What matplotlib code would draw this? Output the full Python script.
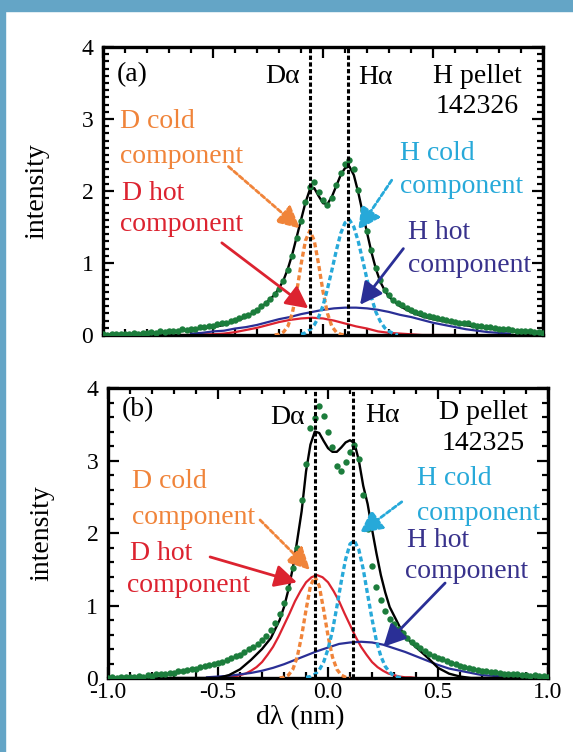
import numpy as np
import matplotlib
matplotlib.use("Agg")
import matplotlib.pyplot as plt
from matplotlib.patches import Rectangle
from matplotlib.ticker import MultipleLocator

plt.rcParams['font.family'] = ['Liberation Serif', 'DejaVu Serif']

# lineas D-alpha y H-alpha (nm)
d_alpha = -0.06
h_alpha = 0.115

# grilla del espectro medido (nm)
x_datos = np.linspace(-1.0, 1.0, 101)

# ---------- (a) H pellet, 142326 ----------
datos_a = [0.01, 0.00, 0.01, 0.02, 0.01, 0.02, 0.01, 0.03, 0.02, 0.03,
           0.03, 0.04, 0.03, 0.05, 0.04, 0.05, 0.06, 0.06, 0.08, 0.07,
           0.09, 0.09, 0.11, 0.11, 0.13, 0.13, 0.15, 0.16, 0.17, 0.20,
           0.21, 0.23, 0.26, 0.28, 0.32, 0.35, 0.40, 0.45, 0.50, 0.57,
           0.64, 0.75, 0.90, 1.10, 1.35, 1.58, 1.85, 2.06, 2.12, 1.98,
           1.88, 1.80, 1.90, 2.08, 2.25, 2.38, 2.43, 2.30, 2.02, 1.74,
           1.45, 1.18, 0.93, 0.76, 0.63, 0.55, 0.49, 0.44, 0.41, 0.38,
           0.35, 0.32, 0.30, 0.28, 0.26, 0.25, 0.23, 0.22, 0.21, 0.19,
           0.18, 0.17, 0.16, 0.16, 0.14, 0.13, 0.13, 0.11, 0.11, 0.10,
           0.09, 0.08, 0.08, 0.07, 0.06, 0.06, 0.05, 0.05, 0.04, 0.04,
           0.03]

x_ajuste_a = [-1.0, -0.9, -0.8, -0.7, -0.6, -0.5, -0.45, -0.4, -0.35, -0.3,
              -0.26, -0.22, -0.2, -0.18, -0.16, -0.14, -0.12, -0.1, -0.08, -0.06,
              -0.04, -0.02, 0.0, 0.02, 0.04, 0.06, 0.08, 0.1, 0.12, 0.14,
              0.16, 0.18, 0.2, 0.22, 0.24, 0.26, 0.28, 0.3, 0.35, 0.4,
              0.45, 0.5, 0.6, 0.7, 0.8, 0.9, 1.0]
ajuste_a = [0.0, 0.01, 0.02, 0.04, 0.07, 0.11, 0.14, 0.19, 0.25, 0.34,
            0.44, 0.56, 0.65, 0.76, 0.92, 1.12, 1.36, 1.60, 1.84, 2.02,
            2.04, 1.93, 1.83, 1.82, 1.92, 2.07, 2.22, 2.32, 2.34, 2.22,
            1.98, 1.70, 1.42, 1.15, 0.92, 0.74, 0.62, 0.53, 0.40, 0.32,
            0.26, 0.22, 0.16, 0.11, 0.07, 0.04, 0.02]

x_dfrio_a = np.linspace(-0.22, 0.10, 17)
dfrio_a = [0.00, 0.01, 0.04, 0.12, 0.30, 0.60, 0.98, 1.31, 1.45, 1.31,
           0.98, 0.60, 0.30, 0.12, 0.04, 0.01, 0.00]

x_hfrio_a = np.linspace(-0.10, 0.34, 23)
hfrio_a = [0.01, 0.03, 0.07, 0.14, 0.25, 0.41, 0.64, 0.90, 1.17, 1.41,
           1.56, 1.60, 1.50, 1.30, 1.04, 0.77, 0.52, 0.32, 0.19, 0.10,
           0.05, 0.02, 0.00]

x_dcal_a = np.linspace(-0.70, 0.60, 27)
dcal_a = [0.00, 0.00, 0.00, 0.01, 0.01, 0.02, 0.04, 0.07, 0.10, 0.14,
          0.18, 0.21, 0.23, 0.24, 0.23, 0.20, 0.16, 0.12, 0.09, 0.05,
          0.03, 0.02, 0.01, 0.00, 0.00, 0.00, 0.00]

x_hcal_a = np.linspace(-0.60, 0.85, 30)
hcal_a = [0.02, 0.03, 0.05, 0.06, 0.09, 0.11, 0.14, 0.18, 0.22, 0.25,
          0.29, 0.32, 0.35, 0.37, 0.38, 0.38, 0.37, 0.35, 0.32, 0.28,
          0.25, 0.21, 0.17, 0.14, 0.11, 0.08, 0.06, 0.04, 0.03, 0.02]

# ---------- (b) D pellet, 142325 ----------
datos_b = [0.00, 0.01, 0.00, 0.01, 0.02, 0.01, 0.02, 0.03, 0.02, 0.04,
           0.03, 0.05, 0.05, 0.06, 0.07, 0.07, 0.09, 0.09, 0.11, 0.12,
           0.13, 0.15, 0.16, 0.18, 0.19, 0.21, 0.22, 0.25, 0.27, 0.30,
           0.32, 0.36, 0.40, 0.43, 0.47, 0.52, 0.58, 0.66, 0.76, 0.88,
           1.03, 1.24, 1.52, 1.80, 2.45, 2.95, 3.45, 3.58, 3.75, 3.62,
           3.40, 3.18, 2.92, 2.85, 2.98, 3.12, 3.22, 3.02, 2.52, 2.05,
           1.55, 1.26, 1.08, 0.92, 0.82, 0.74, 0.67, 0.62, 0.55, 0.50,
           0.46, 0.41, 0.37, 0.33, 0.30, 0.28, 0.26, 0.24, 0.21, 0.19,
           0.17, 0.15, 0.14, 0.12, 0.11, 0.10, 0.09, 0.08, 0.08, 0.07,
           0.06, 0.06, 0.05, 0.05, 0.04, 0.04, 0.03, 0.04, 0.03, 0.03,
           0.02]

x_ajuste_b = [-1.0, -0.5, -0.45, -0.4, -0.35, -0.3, -0.26, -0.22, -0.2, -0.18,
              -0.16, -0.14, -0.12, -0.1, -0.08, -0.06, -0.04, -0.02, 0.0, 0.02,
              0.04, 0.06, 0.08, 0.1, 0.12, 0.14, 0.16, 0.18, 0.2, 0.22,
              0.24, 0.26, 0.28, 0.3, 0.34, 0.38, 0.42, 0.46, 0.5, 0.55,
              0.6, 0.65, 1.0]
ajuste_b = [0.0, 0.0, 0.04, 0.12, 0.25, 0.40, 0.55, 0.80, 0.98, 1.22,
            1.52, 1.90, 2.30, 2.85, 3.22, 3.40, 3.38, 3.27, 3.17, 3.12,
            3.12, 3.18, 3.25, 3.28, 3.24, 3.00, 2.65, 2.40, 2.05, 1.72,
            1.42, 1.18, 0.98, 0.86, 0.62, 0.48, 0.37, 0.26, 0.14, 0.06,
            0.02, 0.0, 0.0]

x_dfrio_b = np.linspace(-0.22, 0.10, 17)
dfrio_b = [0.00, 0.01, 0.04, 0.12, 0.29, 0.58, 0.94, 1.27, 1.40, 1.27,
           0.94, 0.58, 0.29, 0.12, 0.04, 0.01, 0.00]

x_hfrio_b = np.linspace(-0.10, 0.34, 23)
hfrio_b = [0.01, 0.02, 0.05, 0.11, 0.22, 0.40, 0.65, 0.98, 1.33, 1.64,
           1.85, 1.89, 1.77, 1.50, 1.15, 0.81, 0.51, 0.30, 0.16, 0.08,
           0.03, 0.01, 0.00]

x_dcal_b = np.linspace(-0.50, 0.40, 37)
dcal_b = [0.00, 0.01, 0.01, 0.02, 0.04, 0.06, 0.10, 0.15, 0.22, 0.32,
          0.43, 0.57, 0.73, 0.89, 1.06, 1.20, 1.32, 1.39, 1.42, 1.39,
          1.32, 1.20, 1.06, 0.89, 0.73, 0.57, 0.43, 0.32, 0.22, 0.15,
          0.10, 0.06, 0.04, 0.02, 0.01, 0.01, 0.00]

x_hcal_b = np.linspace(-0.55, 0.85, 29)
hcal_b = [0.01, 0.02, 0.03, 0.05, 0.07, 0.10, 0.14, 0.19, 0.25, 0.31,
          0.37, 0.42, 0.47, 0.49, 0.50, 0.49, 0.46, 0.41, 0.36, 0.30,
          0.24, 0.18, 0.13, 0.10, 0.07, 0.04, 0.03, 0.02, 0.01]

# colores
verde = '#1c7d3c'
naranja = '#f0843a'
rojo = '#dc2330'
celeste = '#27a9d9'
azul = '#2a2f96'
texto_azul = '#38328c'
marco = '#64a5c6'

fig = plt.figure(figsize=(5.73, 7.52), dpi=100)
ax_a = fig.add_axes([0.1798, 0.5545, 0.768, 0.383])
ax_b = fig.add_axes([0.1885, 0.0984, 0.768, 0.3856])


def graficar_panel(ax, datos, xa, ajuste, xdf, dfrio, xhf, hfrio, xdc, dcal, xhc, hcal, menor_y):
    ax.plot(xdc, dcal, color=rojo, lw=1.6, zorder=2)
    ax.plot(xhc, hcal, color=azul, lw=1.6, zorder=2)
    ax.plot(xdf, dfrio, color=naranja, lw=2.4, ls=(0, (1.5, 0.9)), zorder=3)
    ax.plot(xhf, hfrio, color=celeste, lw=2.4, ls=(0, (1.5, 0.9)), zorder=3)
    ax.plot(xa, ajuste, color='k', lw=1.7, zorder=4)
    ax.plot(x_datos, datos, 'o', color=verde, ms=4.6, mec='none', zorder=5)
    for xl in (d_alpha, h_alpha):
        ax.axvline(xl, color='k', lw=2.2, ls=(0, (1.4, 0.8)), zorder=6)

    ax.set_xlim(-1.0, 1.0)
    ax.set_ylim(0, 4)
    ax.xaxis.set_major_locator(MultipleLocator(0.5))
    ax.xaxis.set_minor_locator(MultipleLocator(0.1))
    ax.yaxis.set_major_locator(MultipleLocator(1))
    ax.yaxis.set_minor_locator(MultipleLocator(menor_y))
    ax.tick_params(which='both', direction='in', top=True, right=True,
                   width=1.6, labelsize=17)
    ax.tick_params(which='major', length=8)
    ax.tick_params(which='minor', length=4.5)
    ax.tick_params(axis='y', pad=7)
    ax.tick_params(axis='x', pad=3)
    for s in ax.spines.values():
        s.set_linewidth(2.4)
    ax.set_ylabel('intensity', fontsize=20)
    ax.yaxis.set_label_coords(-0.122, 0.5)


def flecha(ax, punta, inicio, color, punteada):
    estilo = (0, (1.6, 1.0)) if punteada else '-'
    ax.annotate('', xy=punta, xytext=inicio,
                arrowprops=dict(arrowstyle='-|>,head_length=0.75,head_width=0.38',
                                color=color, lw=2.0, linestyle=estilo,
                                mutation_scale=18, shrinkA=0, shrinkB=0),
                zorder=7)


def rotulo(ax, x, y, s, color, ha='left'):
    ax.text(x, y, s, color=color, fontsize=20, ha=ha, va='center', zorder=8)


# panel (a)
graficar_panel(ax_a, datos_a, x_ajuste_a, ajuste_a, x_dfrio_a, dfrio_a,
               x_hfrio_a, hfrio_a, x_dcal_a, dcal_a, x_hcal_a, hcal_a, 0.1)
ax_a.tick_params(axis='x', labelbottom=False)
rotulo(ax_a, -0.936, 3.62, '(a)', 'k')
rotulo(ax_a, -0.105, 3.59, 'D\u03b1', 'k', ha='right')
rotulo(ax_a, 0.16, 3.58, 'H\u03b1', 'k')
rotulo(ax_a, 0.905, 3.59, 'H pellet', 'k', ha='right')
rotulo(ax_a, 0.89, 3.17, '142326', 'k', ha='right')
rotulo(ax_a, -0.923, 2.96, 'D cold', naranja)
rotulo(ax_a, -0.923, 2.48, 'component', naranja)
rotulo(ax_a, -0.915, 1.96, 'D hot', rojo)
rotulo(ax_a, -0.923, 1.53, 'component', rojo)
rotulo(ax_a, 0.35, 2.52, 'H cold', celeste)
rotulo(ax_a, 0.35, 2.06, 'component', celeste)
rotulo(ax_a, 0.388, 1.43, 'H hot', texto_azul)
rotulo(ax_a, 0.388, 0.97, 'component', texto_azul)
flecha(ax_a, (-0.105, 1.48), (-0.43, 2.34), naranja, True)
flecha(ax_a, (-0.067, 0.37), (-0.46, 1.28), rojo, False)
flecha(ax_a, (0.16, 1.46), (0.312, 2.15), celeste, True)
flecha(ax_a, (0.168, 0.42), (0.365, 1.20), azul, False)

# panel (b)
graficar_panel(ax_b, datos_b, x_ajuste_b, ajuste_b, x_dfrio_b, dfrio_b,
               x_hfrio_b, hfrio_b, x_dcal_b, dcal_b, x_hcal_b, hcal_b, 0.2)
ax_b.set_xticks([-1.0, -0.5, 0.0, 0.5, 1.0])
ax_b.set_xticklabels(['-1.0', '-0.5', '0.0', '0.5', '1.0'])
ax_b.set_xlabel('d\u03bb (nm)', fontsize=20)
ax_b.xaxis.set_label_coords(0.436, -0.095)
rotulo(ax_b, -0.938, 3.70, '(b)', 'k')
rotulo(ax_b, -0.105, 3.60, 'D\u03b1', 'k', ha='right')
rotulo(ax_b, 0.168, 3.62, 'H\u03b1', 'k')
rotulo(ax_b, 0.909, 3.66, 'D pellet', 'k', ha='right')
rotulo(ax_b, 0.895, 3.24, '142325', 'k', ha='right')
rotulo(ax_b, -0.892, 2.71, 'D cold', naranja)
rotulo(ax_b, -0.892, 2.22, 'component', naranja)
rotulo(ax_b, -0.90, 1.72, 'D hot', rojo)
rotulo(ax_b, -0.915, 1.28, 'component', rojo)
rotulo(ax_b, 0.403, 2.75, 'H cold', celeste)
rotulo(ax_b, 0.403, 2.27, 'component', celeste)
rotulo(ax_b, 0.358, 1.90, 'H hot', texto_azul)
rotulo(ax_b, 0.35, 1.47, 'component', texto_azul)
flecha(ax_b, (-0.082, 1.49), (-0.309, 2.18), naranja, True)
flecha(ax_b, (-0.141, 1.32), (-0.536, 1.67), rojo, False)
flecha(ax_b, (0.145, 2.0), (0.335, 2.43), celeste, True)
flecha(ax_b, (0.251, 0.43), (0.532, 1.31), azul, False)

# marco celeste
fig.patches.append(Rectangle((0, 0), 5 / 573, 1, transform=fig.transFigure,
                             color=marco, zorder=10))
fig.patches.append(Rectangle((0, 1 - 11 / 752), 1, 11 / 752, transform=fig.transFigure,
                             color=marco, zorder=10))

fig.savefig('out.png', dpi=100)
